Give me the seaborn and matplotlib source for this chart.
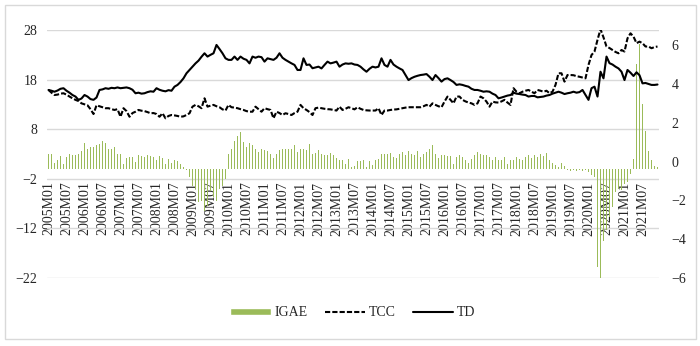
import numpy as np
import pandas as pd
import seaborn as sns
import matplotlib.pyplot as plt
from matplotlib.patches import Patch, Rectangle
from matplotlib.lines import Line2D

# months 2005M01 .. 2021M12
anios = list(range(2005, 2022))
meses = [f"{a}M{m:02d}" for a in anios for m in range(1, 13)]

# IGAE, annual growth (left axis), one row per year
igae = [
    2.9, 2.9, 1.1, 1.8, 2.5, 1.0, 2.4, 2.9, 2.7, 2.7, 3.0, 3.7,
    5.2, 4.0, 4.4, 4.5, 4.9, 5.0, 5.6, 5.2, 4.0, 4.0, 4.5, 2.9,
    2.9, 1.0, 2.2, 2.4, 2.4, 1.3, 2.7, 2.5, 2.4, 2.7, 2.5, 2.4,
    1.8, 2.5, 2.2, 1.0, 2.0, 1.1, 1.8, 1.5, 1.0, 0.3, -0.3, -1.7,
    -3.4, -4.0, -6.7, -6.4, -8.4, -7.4, -4.4, -5.7, -6.4, -4.0, -3.4, -2.0,
    3.1, 4.0, 5.7, 6.7, 7.4, 5.5, 4.5, 5.2, 4.9, 4.0, 3.5, 4.0,
    3.8, 3.7, 3.1, 2.2, 3.1, 3.8, 4.0, 4.0, 4.0, 4.0, 4.9, 3.5,
    4.0, 4.0, 3.8, 5.0, 3.1, 3.3, 3.8, 3.0, 2.7, 2.7, 3.2, 2.7,
    2.2, 1.8, 1.7, 0.9, 2.0, 0.3, 0.5, 1.5, 1.5, 1.7, 0.3, 1.5,
    0.7, 1.8, 2.0, 3.0, 3.0, 3.0, 3.2, 2.4, 2.2, 3.0, 3.4, 2.7,
    3.7, 2.9, 2.7, 3.7, 2.4, 3.0, 3.4, 4.0, 4.9, 3.0, 2.2, 2.7,
    2.7, 2.5, 2.5, 1.0, 2.4, 2.7, 2.4, 1.7, 1.1, 2.0, 2.7, 3.4,
    3.0, 2.7, 2.7, 2.35, 1.8, 2.35, 1.7, 1.8, 2.35, 1.0, 1.7, 1.8,
    2.35, 2.0, 1.7, 2.35, 2.7, 2.2, 2.7, 2.35, 3.0, 2.5, 3.2, 1.7,
    1.1, 0.7, 0.3, 1.1, 0.5, -0.3, -0.4, -0.3, -0.5, -0.2, -0.4, -0.3,
    -0.7, -1.2, -1.7, -19.8, -22.0, -14.5, -12.4, -9.8, -7.7, -4.7, -4.0, -4.3,
    -3.0, -2.7, -1.0, 2.0, 21.2, 25.2, 13.1, 7.7, 3.7, 1.7, 0.5, 0.3,
]

# TCC (right axis)
tcc = [
    3.69, 3.55, 3.43, 3.45, 3.50, 3.52, 3.45, 3.35, 3.26, 3.18, 3.12, 3.00,
    2.95, 2.90, 2.70, 2.45, 2.90, 2.85, 2.80, 2.75, 2.75, 2.70, 2.66, 2.70,
    2.31, 2.75, 2.60, 2.31, 2.50, 2.57, 2.66, 2.62, 2.60, 2.55, 2.49, 2.50,
    2.45, 2.31, 2.49, 2.23, 2.35, 2.40, 2.38, 2.35, 2.31, 2.33, 2.40, 2.49,
    2.83, 2.92, 2.85, 2.75, 3.26, 2.83, 2.88, 2.92, 2.85, 2.80, 2.69, 2.63,
    2.92, 2.80, 2.78, 2.75, 2.70, 2.66, 2.60, 2.57, 2.57, 2.83, 2.70, 2.57,
    2.75, 2.70, 2.66, 2.23, 2.57, 2.50, 2.40, 2.49, 2.45, 2.40, 2.50, 2.57,
    2.92, 2.75, 2.66, 2.55, 2.40, 2.75, 2.78, 2.75, 2.72, 2.70, 2.69, 2.66,
    2.63, 2.83, 2.66, 2.72, 2.80, 2.75, 2.69, 2.80, 2.72, 2.66, 2.64, 2.63,
    2.63, 2.63, 2.75, 2.40, 2.63, 2.63, 2.66, 2.68, 2.69, 2.72, 2.75, 2.78,
    2.80, 2.80, 2.80, 2.80, 2.80, 2.85, 2.92, 2.83, 3.00, 2.92, 2.85, 2.80,
    3.09, 3.35, 3.18, 3.00, 3.35, 3.35, 3.18, 3.10, 3.04, 3.00, 2.92, 3.00,
    3.35, 3.26, 3.09, 2.83, 3.09, 3.05, 3.04, 3.10, 3.18, 3.04, 2.92, 3.78,
    3.60, 3.52, 3.60, 3.65, 3.69, 3.60, 3.52, 3.69, 3.65, 3.60, 3.65, 3.52,
    3.60, 3.95, 4.55, 4.55, 4.12, 4.46, 4.46, 4.45, 4.40, 4.37, 4.33, 4.29,
    4.98, 5.49, 5.67, 6.27, 6.82, 6.40, 5.93, 5.85, 5.75, 5.65, 5.58, 5.75,
    5.67, 6.35, 6.61, 6.44, 6.10, 6.18, 6.10, 5.93, 5.93, 5.84, 5.90, 5.93,
]

# TD (right axis)
td = [
    3.69, 3.65, 3.60, 3.66, 3.75, 3.78, 3.65, 3.55, 3.43, 3.35, 3.18, 3.25,
    3.43, 3.35, 3.22, 3.18, 3.30, 3.69, 3.72, 3.78, 3.75, 3.80, 3.78, 3.82,
    3.78, 3.80, 3.82, 3.78, 3.70, 3.52, 3.55, 3.50, 3.52, 3.58, 3.62, 3.60,
    3.78, 3.70, 3.65, 3.62, 3.68, 3.65, 3.86, 3.95, 4.10, 4.29, 4.55, 4.72,
    4.89, 5.06, 5.20, 5.40, 5.58, 5.41, 5.50, 5.58, 6.01, 5.80, 5.58, 5.32,
    5.24, 5.24, 5.41, 5.24, 5.41, 5.30, 5.24, 5.06, 5.41, 5.35, 5.41, 5.38,
    5.15, 5.32, 5.28, 5.24, 5.35, 5.58, 5.35, 5.24, 5.15, 5.06, 4.98, 4.72,
    4.72, 5.32, 4.98, 5.00, 4.81, 4.85, 4.89, 4.80, 4.98, 5.15, 5.06, 5.10,
    5.15, 4.89, 5.00, 5.06, 5.04, 5.06, 5.00, 4.98, 4.89, 4.75, 4.63, 4.78,
    4.89, 4.85, 4.89, 5.32, 4.98, 4.89, 5.24, 5.00, 4.89, 4.80, 4.72, 4.46,
    4.20, 4.30, 4.37, 4.42, 4.46, 4.48, 4.51, 4.37, 4.20, 4.46, 4.30, 4.12,
    4.25, 4.29, 4.20, 4.10, 3.95, 3.98, 3.95, 3.90, 3.86, 3.75, 3.69, 3.69,
    3.65, 3.60, 3.62, 3.60, 3.50, 3.43, 3.26, 3.30, 3.35, 3.40, 3.43, 3.55,
    3.50, 3.48, 3.45, 3.43, 3.35, 3.38, 3.38, 3.31, 3.33, 3.35, 3.40, 3.43,
    3.50, 3.55, 3.60, 3.55, 3.48, 3.52, 3.55, 3.60, 3.55, 3.58, 3.69, 3.43,
    3.18, 3.78, 3.86, 3.35, 4.63, 4.29, 5.41, 5.07, 5.00, 4.89, 4.80, 4.63,
    4.20, 4.72, 4.58, 4.41, 4.60, 4.45, 4.03, 4.05, 4.00, 3.95, 3.95, 3.97,
]

left_ticks = [-22, -12, -2, 8, 18, 28]
right_ticks = [-6, -4, -2, 0, 2, 4, 6]

verde = "#9BBB59"
dash = (0, (2.5, 1))

df = pd.DataFrame({"mes": meses, "IGAE": igae, "TCC": tcc, "TD": td})
df["pos"] = np.arange(len(df))

sns.set_style("white")
plt.rcParams["font.family"] = ["Liberation Serif", "DejaVu Serif"]

fig = plt.figure(figsize=(7, 3.46), dpi=100)
ax = fig.add_axes([47 / 700, 1 - 278 / 346, 612 / 700, 248 / 346])

sns.barplot(data=df, x="pos", y="IGAE", native_scale=True, color=verde,
            saturation=1, width=0.5, errorbar=None, linewidth=0, ax=ax)

ax2 = ax.twinx()
sns.lineplot(data=df, x="pos", y="TCC", ax=ax2, color="black", lw=1.5, linestyle=dash)
sns.lineplot(data=df, x="pos", y="TD", ax=ax2, color="black", lw=1.5)

ax.set_ylim(-22, 28)
ax.set_yticks(left_ticks)
ax2.set_ylim(-6.0, 6.78)
ax2.set_yticks(right_ticks)
ax.set_xlim(-0.5, 203.5)

ax.yaxis.grid(True, color="#D9D9D9", lw=1)
ax.set_axisbelow(True)

# month labels hang from the -2 line; set spine position before the labels
ax.spines["bottom"].set_position(("data", -2))
for a in (ax, ax2):
    for s in a.spines.values():
        s.set_visible(False)
    a.set_xlabel("")
    a.set_ylabel("")
ax.set_xticks(df["pos"][::6])
ax.set_xticklabels(df["mes"][::6])

ax.tick_params(axis="x", length=0, pad=2, labelsize=10, labelrotation=90)
ax.tick_params(axis="y", length=0, pad=7, labelsize=10)
ax2.tick_params(axis="y", length=0, pad=9, labelsize=10)

handles = [
    Patch(facecolor=verde, label="IGAE"),
    Line2D([], [], color="black", lw=1.5, linestyle=dash, label="TCC"),
    Line2D([], [], color="black", lw=1.5, label="TD"),
]
fig.legend(handles=handles, loc="center", bbox_to_anchor=(353 / 700, 1 - 313 / 346),
           ncol=3, frameon=False, fontsize=10, handlelength=2.9, handleheight=0.45,
           handletextpad=0.3, columnspacing=1.2)

# chart border
fig.add_artist(Rectangle((5 / 700, 7 / 346), 691 / 700, 334 / 346, transform=fig.transFigure,
                         fill=False, edgecolor="#D9D9D9", lw=1))

fig.savefig("out.png", dpi=100)
